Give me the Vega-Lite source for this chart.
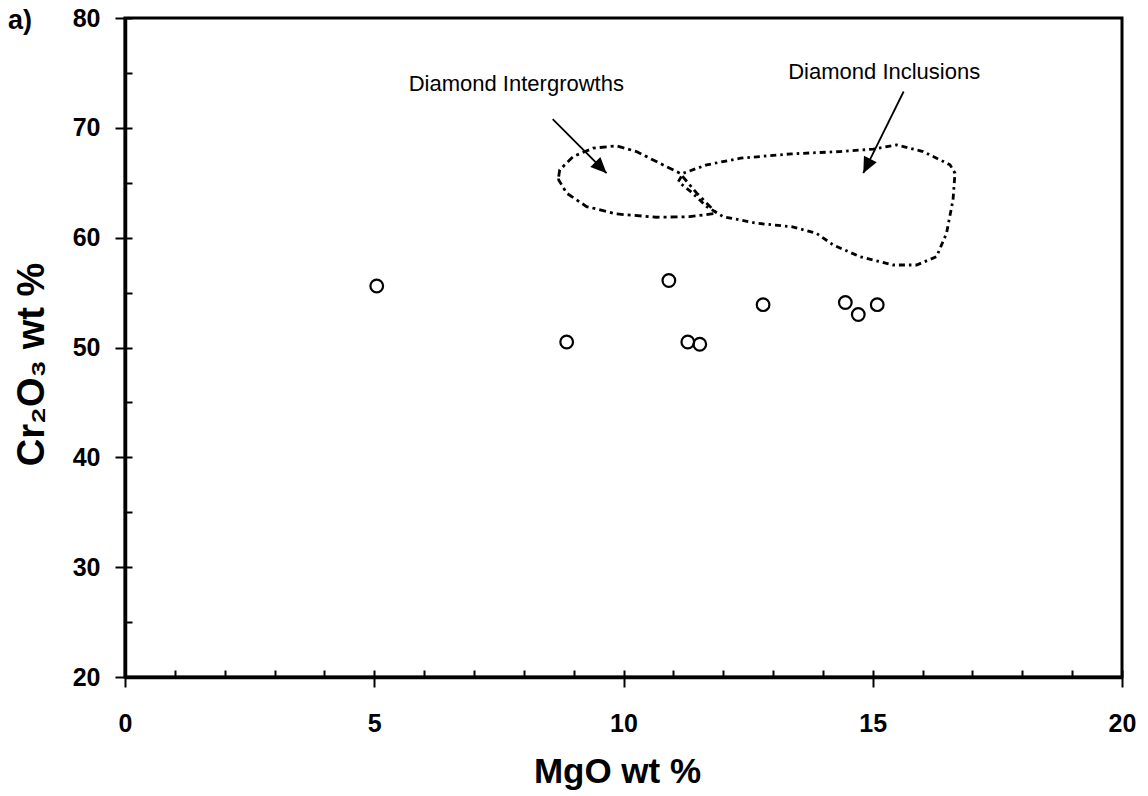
{
  "$schema": "https://vega.github.io/schema/vega-lite/v6.json",
  "width": 997,
  "height": 659,
  "autosize": {"type": "none"},
  "padding": {"left": 125, "top": 18, "right": 26, "bottom": 119},
  "background": "white",
  "config": {
    "view": {"stroke": "black", "strokeWidth": 3},
    "font": "Liberation Sans"
  },
  "title": {
    "text": "a)", "anchor": "start", "frame": "group", "orient": "top",
    "offset": 0, "dx": -117, "dy": 50, "baseline": "alphabetic",
    "fontSize": 27, "fontWeight": "bold", "font": "Liberation Sans", "color": "black"
  },
  "datasets": {
    "points": [
      {"MgO": 5.05, "Cr2O3": 55.6},
      {"MgO": 10.91, "Cr2O3": 56.1},
      {"MgO": 8.86, "Cr2O3": 50.5},
      {"MgO": 11.29, "Cr2O3": 50.5},
      {"MgO": 11.53, "Cr2O3": 50.3},
      {"MgO": 12.80, "Cr2O3": 53.9},
      {"MgO": 14.45, "Cr2O3": 54.1},
      {"MgO": 14.71, "Cr2O3": 53.0},
      {"MgO": 15.09, "Cr2O3": 53.9}
    ],
    "outlines": [
      {"region": "Intergrowths", "i": 0, "MgO": 8.70, "Cr2O3": 65.56},
      {"region": "Intergrowths", "i": 1, "MgO": 8.72, "Cr2O3": 66.17},
      {"region": "Intergrowths", "i": 2, "MgO": 8.99, "Cr2O3": 67.38},
      {"region": "Intergrowths", "i": 3, "MgO": 9.39, "Cr2O3": 68.15},
      {"region": "Intergrowths", "i": 4, "MgO": 9.86, "Cr2O3": 68.36},
      {"region": "Intergrowths", "i": 5, "MgO": 10.26, "Cr2O3": 67.84},
      {"region": "Intergrowths", "i": 6, "MgO": 10.66, "Cr2O3": 66.93},
      {"region": "Intergrowths", "i": 7, "MgO": 11.13, "Cr2O3": 65.87},
      {"region": "Intergrowths", "i": 8, "MgO": 11.47, "Cr2O3": 64.05},
      {"region": "Intergrowths", "i": 9, "MgO": 11.87, "Cr2O3": 62.22},
      {"region": "Intergrowths", "i": 10, "MgO": 11.33, "Cr2O3": 61.91},
      {"region": "Intergrowths", "i": 11, "MgO": 10.66, "Cr2O3": 61.86},
      {"region": "Intergrowths", "i": 12, "MgO": 9.86, "Cr2O3": 62.16},
      {"region": "Intergrowths", "i": 13, "MgO": 9.26, "Cr2O3": 62.83},
      {"region": "Intergrowths", "i": 14, "MgO": 8.86, "Cr2O3": 64.05},
      {"region": "Intergrowths", "i": 15, "MgO": 8.70, "Cr2O3": 65.26},
      {"region": "Intergrowths", "i": 16, "MgO": 8.70, "Cr2O3": 65.56},
      {"region": "Inclusions", "i": 0, "MgO": 11.10, "Cr2O3": 65.10},
      {"region": "Inclusions", "i": 1, "MgO": 11.20, "Cr2O3": 65.87},
      {"region": "Inclusions", "i": 2, "MgO": 11.67, "Cr2O3": 66.63},
      {"region": "Inclusions", "i": 3, "MgO": 12.35, "Cr2O3": 67.24},
      {"region": "Inclusions", "i": 4, "MgO": 13.37, "Cr2O3": 67.63},
      {"region": "Inclusions", "i": 5, "MgO": 14.34, "Cr2O3": 67.84},
      {"region": "Inclusions", "i": 6, "MgO": 15.01, "Cr2O3": 68.06},
      {"region": "Inclusions", "i": 7, "MgO": 15.48, "Cr2O3": 68.45},
      {"region": "Inclusions", "i": 8, "MgO": 16.01, "Cr2O3": 67.84},
      {"region": "Inclusions", "i": 9, "MgO": 16.55, "Cr2O3": 66.63},
      {"region": "Inclusions", "i": 10, "MgO": 16.65, "Cr2O3": 65.87},
      {"region": "Inclusions", "i": 11, "MgO": 16.61, "Cr2O3": 63.44},
      {"region": "Inclusions", "i": 12, "MgO": 16.48, "Cr2O3": 60.40},
      {"region": "Inclusions", "i": 13, "MgO": 16.28, "Cr2O3": 58.27},
      {"region": "Inclusions", "i": 14, "MgO": 15.88, "Cr2O3": 57.51},
      {"region": "Inclusions", "i": 15, "MgO": 15.41, "Cr2O3": 57.51},
      {"region": "Inclusions", "i": 16, "MgO": 14.74, "Cr2O3": 58.27},
      {"region": "Inclusions", "i": 17, "MgO": 14.21, "Cr2O3": 59.33},
      {"region": "Inclusions", "i": 18, "MgO": 13.87, "Cr2O3": 60.40},
      {"region": "Inclusions", "i": 19, "MgO": 13.37, "Cr2O3": 61.00},
      {"region": "Inclusions", "i": 20, "MgO": 12.67, "Cr2O3": 61.31},
      {"region": "Inclusions", "i": 21, "MgO": 12.00, "Cr2O3": 61.91},
      {"region": "Inclusions", "i": 22, "MgO": 11.67, "Cr2O3": 62.83},
      {"region": "Inclusions", "i": 23, "MgO": 11.35, "Cr2O3": 64.19},
      {"region": "Inclusions", "i": 24, "MgO": 11.10, "Cr2O3": 65.10}
    ],
    "arrows": [
      {"region": "Intergrowths", "MgO": 8.58, "Cr2O3": 70.79, "MgO2": 9.66, "Cr2O32": 65.87},
      {"region": "Inclusions", "MgO": 15.62, "Cr2O3": 73.31, "MgO2": 14.81, "Cr2O32": 65.87}
    ],
    "labels": [
      {"text": "Diamond Intergrowths", "MgO": 7.85, "Cr2O3": 74.0},
      {"text": "Diamond Inclusions", "MgO": 15.23, "Cr2O3": 75.1}
    ]
  },
  "resolve": {"axis": {"x": "independent", "y": "independent"}},
  "layer": [
    {
      "data": {"name": "points"},
      "mark": {"type": "point", "shape": "circle", "filled": false, "stroke": "black", "strokeWidth": 2.2, "size": 160, "opacity": 1},
      "encoding": {
        "x": {"field": "MgO", "type": "quantitative", "scale": {"domain": [0, 20], "nice": false, "zero": false},
          "axis": {"orient": "bottom", "values": [0, 5, 10, 15, 20], "tickSize": 10, "tickWidth": 2, "tickColor": "black",
            "domainColor": "black", "domainWidth": 3.5, "grid": false,
            "labelFontSize": 25, "labelFontWeight": "bold", "labelColor": "black", "labelBaseline": "alphabetic", "labelPadding": 44.7,
            "labelFlush": false, "labelOverlap": false,
            "title": "MgO wt %", "titleFontSize": 35, "titleFontWeight": "bold", "titleColor": "black",
            "titleBaseline": "alphabetic", "titleX": 492, "titleY": 105, "titleAnchor": "middle"}},
        "y": {"field": "Cr2O3", "type": "quantitative", "scale": {"domain": [20, 80], "nice": false, "zero": false},
          "axis": {"orient": "left", "values": [20, 30, 40, 50, 60, 70, 80], "tickSize": 10, "tickWidth": 2, "tickColor": "black",
            "domainColor": "black", "domainWidth": 3.5, "grid": false,
            "labelFontSize": 25, "labelFontWeight": "bold", "labelColor": "black", "labelBaseline": "middle", "labelPadding": 15,
            "labelFlush": false, "labelOverlap": false,
            "title": "Cr₂O₃ wt %", "titleFontSize": 38, "titleFontWeight": "bold", "titleColor": "black",
            "titleBaseline": "alphabetic", "titleAngle": -90, "titleX": -82, "titleY": 346, "titleAlign": "center"}}
      }
    },
    {
      "data": {"name": "outlines"},
      "transform": [{"filter": "datum.region === 'Intergrowths'"}],
      "mark": {"type": "line", "stroke": "black", "strokeWidth": 2.8, "strokeDash": [7, 4, 3, 4], "interpolate": "linear"},
      "encoding": {
        "x": {"field": "MgO", "type": "quantitative", "scale": {"domain": [0, 20], "nice": false, "zero": false},
          "axis": {"orient": "bottom", "values": [0,1,2,3,4,5,6,7,8,9,10,11,12,13,14,15,16,17,18,19,20], "tickSize": -7, "tickWidth": 2, "tickColor": "black",
            "domain": false, "labels": false, "grid": false, "title": null}},
        "y": {"field": "Cr2O3", "type": "quantitative", "scale": {"domain": [20, 80], "nice": false, "zero": false},
          "axis": {"orient": "left", "values": [20,25,30,35,40,45,50,55,60,65,70,75,80], "tickSize": -7, "tickWidth": 2, "tickColor": "black",
            "domain": false, "labels": false, "grid": false, "title": null}},
        "order": {"field": "i", "type": "quantitative"}
      }
    },
    {
      "data": {"name": "outlines"},
      "transform": [{"filter": "datum.region === 'Inclusions'"}],
      "mark": {"type": "line", "stroke": "black", "strokeWidth": 2.8, "strokeDash": [6, 4, 2.5, 4], "interpolate": "linear"},
      "encoding": {
        "x": {"field": "MgO", "type": "quantitative", "scale": {"domain": [0, 20], "nice": false, "zero": false}, "axis": null},
        "y": {"field": "Cr2O3", "type": "quantitative", "scale": {"domain": [20, 80], "nice": false, "zero": false}, "axis": null},
        "order": {"field": "i", "type": "quantitative"}
      }
    },
    {
      "data": {"name": "arrows"},
      "mark": {"type": "rule", "stroke": "black", "strokeWidth": 1.8},
      "encoding": {
        "x": {"field": "MgO", "type": "quantitative", "scale": {"domain": [0, 20], "nice": false, "zero": false}, "axis": null},
        "y": {"field": "Cr2O3", "type": "quantitative", "scale": {"domain": [20, 80], "nice": false, "zero": false}, "axis": null},
        "x2": {"field": "MgO2"},
        "y2": {"field": "Cr2O32"}
      }
    },
    {
      "data": {"name": "arrows"},
      "transform": [{"filter": "datum.region === 'Intergrowths'"}],
      "mark": {"type": "point", "shape": "M0,0L-0.45,1L0.45,1Z", "filled": true, "color": "black", "size": 1000, "angle": 135, "opacity": 1},
      "encoding": {
        "x": {"field": "MgO2", "type": "quantitative", "scale": {"domain": [0, 20], "nice": false, "zero": false}, "axis": null},
        "y": {"field": "Cr2O32", "type": "quantitative", "scale": {"domain": [20, 80], "nice": false, "zero": false}, "axis": null}
      }
    },
    {
      "data": {"name": "arrows"},
      "transform": [{"filter": "datum.region === 'Inclusions'"}],
      "mark": {"type": "point", "shape": "M0,0L-0.45,1L0.45,1Z", "filled": true, "color": "black", "size": 1000, "angle": 206.5, "opacity": 1},
      "encoding": {
        "x": {"field": "MgO2", "type": "quantitative", "scale": {"domain": [0, 20], "nice": false, "zero": false}, "axis": null},
        "y": {"field": "Cr2O32", "type": "quantitative", "scale": {"domain": [20, 80], "nice": false, "zero": false}, "axis": null}
      }
    },
    {
      "data": {"name": "labels"},
      "mark": {"type": "text", "font": "Liberation Sans", "fontSize": 22, "color": "black", "align": "center", "baseline": "middle"},
      "encoding": {
        "x": {"field": "MgO", "type": "quantitative", "scale": {"domain": [0, 20], "nice": false, "zero": false}, "axis": null},
        "y": {"field": "Cr2O3", "type": "quantitative", "scale": {"domain": [20, 80], "nice": false, "zero": false}, "axis": null},
        "text": {"field": "text"}
      }
    }
  ]
}
